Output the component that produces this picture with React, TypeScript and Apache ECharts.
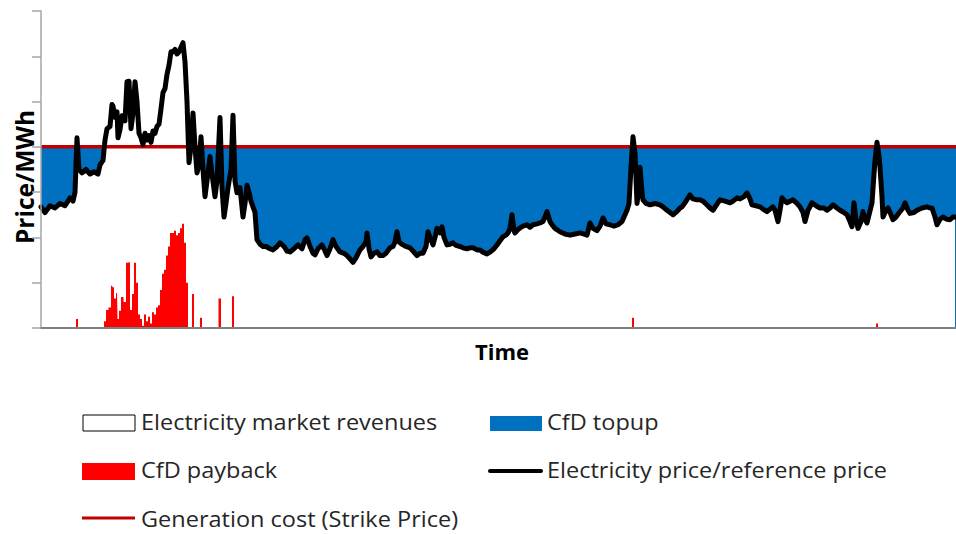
import React, { useEffect, useRef } from "react";
import * as echarts from "echarts";

// Time index (days from start) and electricity price readings
const days: number[] = [
  0, 4, 9, 14, 19, 24, 29, 32, 34, 36, 38, 41, 45, 49, 53, 57, 59, 62, 64, 66,
  69, 71, 72, 74, 76, 77, 79, 81, 84, 86, 88, 90, 92, 94, 96, 98, 100, 102, 104, 106,
  108, 110, 112, 114, 116, 118, 120, 122, 124, 126, 128, 130, 132, 134, 136, 138, 140, 142, 144, 146,
  148, 150, 152, 154, 156, 158, 160, 162, 164, 166, 169, 171, 174, 176, 179, 181, 183, 185, 187, 190,
  192, 194, 196, 199, 202, 204, 206, 208, 210, 212, 214, 216, 219, 222, 225, 229, 232, 236, 239, 243,
  246, 249, 253, 257, 261, 264, 266, 269, 272, 274, 277, 281, 284, 286, 289, 292, 295, 299, 303, 306,
  309, 312, 315, 319, 322, 325, 326, 328, 330, 333, 336, 339, 342, 345, 349, 352, 354, 356, 358, 362,
  365, 369, 372, 376, 379, 382, 385, 387, 389, 392, 394, 396, 399, 401, 403, 406, 409, 412, 415, 419,
  422, 426, 429, 432, 436, 439, 442, 446, 449, 453, 456, 459, 462, 465, 467, 469, 471, 473, 474, 477,
  479, 482, 486, 489, 492, 496, 499, 502, 504, 506, 509, 511, 514, 519, 524, 529, 534, 539, 543, 546,
  549, 552, 556, 559, 562, 565, 569, 573, 577, 581, 584, 586, 588, 590, 592, 594, 596, 598, 599, 601,
  602, 605, 609, 614, 619, 622, 626, 629, 632, 636, 639, 641, 645, 649, 652, 656, 659, 662, 666, 669,
  672, 675, 679, 684, 689, 692, 696, 699, 703, 706, 709, 711, 715, 719, 722, 726, 729, 732, 734, 737,
  739, 741, 744, 746, 749, 752, 756, 759, 762, 764, 767, 771, 775, 779, 783, 786, 789, 792, 796, 799,
  803, 806, 809, 811, 813, 815, 817, 820, 822, 824, 826, 828, 831, 833, 834, 836, 838, 839, 841, 842,
  845, 847, 850, 852, 855, 859, 862, 864, 867, 869, 873, 876, 881, 886, 889, 891, 894, 896, 899, 902,
  906, 909, 912, 914,
];

const prices: number[] = [
  53.5, 51, 54, 53, 55, 54, 57.5, 56, 60, 84, 70, 68.5, 70, 68, 69, 68, 72, 74, 83, 88,
  89, 98.7, 98, 93, 95.5, 84, 87.6, 93.7, 91.5, 108.8, 109, 88, 95, 108.8, 100, 86, 84, 81, 86, 83,
  85, 82, 87, 86, 89, 90, 96.8, 104, 105.7, 112, 116, 122, 122, 123, 121, 122, 124, 126, 117.6, 100,
  73, 80, 95, 80, 68.5, 72, 84.5, 70, 58, 65, 75.7, 68, 58, 65, 93, 62, 49, 55, 62, 70,
  94, 65, 59.7, 62, 49, 55, 63, 60, 56, 53.5, 51, 39, 37, 36, 36, 35, 34.5, 36, 37.6, 36,
  34, 33.6, 35, 36.7, 35, 39, 39.8, 36, 33, 32.3, 35, 36.7, 34, 32, 35, 39, 36, 33.6, 33, 32,
  30.5, 29, 31, 34.5, 36, 38, 42, 35, 31.4, 33, 33.6, 32, 32, 33, 35.4, 36, 38, 42.5, 38, 36.7,
  36, 35.4, 34, 32, 33, 33, 36, 42.5, 40, 36.7, 40, 44, 42, 44.7, 40, 36.7, 37, 37.6, 36.5, 36,
  35.4, 35, 35.4, 35.4, 34.5, 34.5, 33.5, 32.7, 33.5, 35, 36.7, 38.5, 40.3, 41, 42, 44, 50, 43, 42, 43.5,
  44.2, 45, 45.6, 44.5, 45.6, 46, 46.4, 47, 49, 51.4, 47, 45.6, 44, 42.5, 41.5, 41, 41.5, 42, 41.5, 41,
  46.4, 44, 43, 45, 48.6, 46, 45.6, 45, 45.6, 47, 50, 52, 55, 71, 84.5, 77, 55, 62, 71, 60,
  56.6, 55, 54.4, 55, 54.4, 53.5, 52, 51, 50, 51.5, 53, 53.5, 56, 58.8, 57, 56.6, 56.6, 56, 54.4, 53,
  52, 54, 56.6, 56, 55.3, 56, 57.5, 57, 58, 59.7, 57, 54.4, 54, 53.5, 52.5, 51.4, 52.5, 53.5, 52, 47,
  52, 57.5, 56, 55.3, 56, 56.6, 55, 53.5, 51, 47, 52, 55.3, 54, 53, 53, 52, 53, 54.4, 53, 52,
  51, 50, 47, 44.7, 55.3, 48, 44, 47, 51.4, 48, 46.4, 50, 55.3, 68, 74, 82, 76, 71, 58, 49,
  52, 53, 50, 47.8, 49, 51.4, 53, 55.3, 52, 50.6, 51, 52, 53, 53.5, 53, 53, 49, 45.6, 48, 49,
  48, 47.8, 49, 49,
];

const strikePrice = 80;
const timeRange = [0, 915];
const yTicks = [0, 20, 40, 60, 80, 100, 120, 140];

const legendItems = [
  "Electricity market revenues",
  "CfD topup",
  "CfD payback",
  "Electricity price/reference price",
  "Generation cost (Strike Price)",
];

const BLUE = "#0070C0";
const RED = "#FF0000";
const DARKRED = "#C00000";
const FONT = "'Open Sans', Lato, sans-serif";

export default function App() {
  const ref = useRef<HTMLDivElement>(null);
  useEffect(() => {
    if (!ref.current) return;
    const chart = echarts.init(ref.current, undefined, { renderer: "svg" });

    const strike = timeRange.map((d) => [d, strikePrice]);
    const below = days.map((d, i) => [d, Math.min(prices[i], strikePrice)]);
    const payback = days.map((d, i) => [d, Math.max(prices[i] - strikePrice, 0)]);
    const price = days.map((d, i) => [d, prices[i]]);

    const legendText = (x: number, y: number, text: string) => ({
      type: "text",
      x,
      y,
      scaleX: 1.12,
      style: {
        text,
        font: `21px ${FONT}`,
        fill: "#262626",
        align: "left",
        verticalAlign: "middle",
        textAlign: "left",
        textVerticalAlign: "middle",
      },
    });

    chart.setOption({
      animation: false,
      backgroundColor: "#ffffff",
      grid: { left: 41, right: 0, top: 11, bottom: 206 },
      xAxis: {
        type: "value",
        z: 5,
        min: timeRange[0],
        max: timeRange[1],
        axisLine: { show: true, onZero: false, lineStyle: { color: "#7F7F7F", width: 2 } },
        axisTick: { show: false },
        axisLabel: { show: false },
        splitLine: { show: false },
      },
      yAxis: {
        type: "value",
        z: 5,
        min: yTicks[0],
        max: yTicks[yTicks.length - 1],
        interval: 20,
        axisLine: { show: true, lineStyle: { color: "#A6A6A6", width: 1.5 } },
        axisTick: { show: true, inside: false, length: 9, lineStyle: { color: "#A6A6A6", width: 1.5 } },
        axisLabel: { show: false },
        splitLine: { show: false },
      },
      series: [
        {
          name: legendItems[1],
          type: "line",
          data: strike,
          showSymbol: false,
          symbol: "none",
          lineStyle: { width: 0, opacity: 0 },
          areaStyle: { color: BLUE, opacity: 1 },
          silent: true,
        },
        {
          name: legendItems[0],
          type: "line",
          data: below,
          showSymbol: false,
          symbol: "none",
          lineStyle: { width: 0, opacity: 0 },
          areaStyle: { color: "#ffffff", opacity: 1 },
          silent: true,
        },
        {
          name: legendItems[2],
          type: "line",
          step: "middle",
          data: payback,
          showSymbol: false,
          symbol: "none",
          lineStyle: { width: 0, opacity: 0 },
          areaStyle: { color: RED, opacity: 1 },
          silent: true,
        },
        {
          name: legendItems[4],
          type: "line",
          data: strike,
          showSymbol: false,
          symbol: "none",
          lineStyle: { color: DARKRED, width: 3.5 },
          silent: true,
        },
        {
          name: legendItems[3],
          type: "line",
          data: price,
          showSymbol: false,
          symbol: "none",
          lineStyle: { color: "#000000", width: 5, join: "round", cap: "round" },
          silent: true,
        },
      ],
      graphic: [
        {
          type: "text",
          x: 24,
          y: 177,
          rotation: Math.PI / 2,
          style: {
            text: "Price/MWh",
            font: `bold 24.5px ${FONT}`,
            fill: "#000000",
            align: "center",
            verticalAlign: "middle",
            textAlign: "center",
            textVerticalAlign: "middle",
          },
        },
        {
          type: "text",
          x: 502,
          y: 351,
          style: {
            text: "Time",
            font: `bold 22px ${FONT}`,
            fill: "#000000",
            align: "center",
            verticalAlign: "middle",
            textAlign: "center",
            textVerticalAlign: "middle",
          },
        },
        // legend row 1
        {
          type: "rect",
          shape: { x: 83, y: 415, width: 52, height: 16 },
          style: { fill: "#ffffff", stroke: "#000000", lineWidth: 1 },
        },
        legendText(141, 422, legendItems[0]),
        {
          type: "rect",
          shape: { x: 490, y: 416, width: 52, height: 15 },
          style: { fill: BLUE },
        },
        legendText(547, 422, legendItems[1]),
        // legend row 2
        {
          type: "rect",
          shape: { x: 82, y: 463, width: 53, height: 17 },
          style: { fill: RED },
        },
        legendText(141, 470, legendItems[2]),
        {
          type: "line",
          shape: { x1: 490, y1: 471, x2: 541, y2: 471 },
          style: { stroke: "#000000", lineWidth: 4, lineCap: "round" },
        },
        legendText(547, 470, legendItems[3]),
        // legend row 3
        {
          type: "line",
          shape: { x1: 82, y1: 518, x2: 135, y2: 518 },
          style: { stroke: DARKRED, lineWidth: 3 },
        },
        legendText(141, 519, legendItems[4]),
      ],
    });
    return () => chart.dispose();
  }, []);
  return (
    <div
      ref={ref}
      style={{ position: "absolute", left: 0, top: 0, width: 956, height: 534 }}
    />
  );
}
